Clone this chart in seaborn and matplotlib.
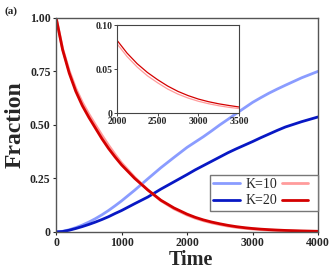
import numpy as np
import pandas as pd
import matplotlib
matplotlib.use("Agg")
import matplotlib.pyplot as plt
import seaborn as sns
from matplotlib.ticker import FuncFormatter

time = [0, 100, 200, 300, 400, 500, 600, 700, 800, 900, 1000,
        1200, 1400, 1600, 1800, 2000, 2125, 2250, 2375, 2500, 2625,
        2750, 2875, 3000, 3125, 3250, 3375, 3500, 3750, 4000]

# rising fractions
blue_k10 = [0.0, 0.003, 0.010, 0.020, 0.032, 0.046, 0.062, 0.080, 0.100, 0.122, 0.145,
            0.195, 0.248, 0.300, 0.348, 0.395, 0.420, 0.445, 0.472, 0.500, 0.526,
            0.553, 0.579, 0.605, 0.627, 0.648, 0.667, 0.685, 0.720, 0.750]
blue_k20 = [0.0, 0.002, 0.008, 0.016, 0.025, 0.035, 0.046, 0.058, 0.071, 0.086, 0.100,
            0.132, 0.163, 0.200, 0.234, 0.268, 0.290, 0.310, 0.330, 0.350, 0.370,
            0.388, 0.405, 0.422, 0.440, 0.457, 0.474, 0.490, 0.515, 0.537]
# decaying fractions
red_k10 = [1.0, 0.855, 0.752, 0.670, 0.605, 0.550, 0.500, 0.451, 0.405, 0.362, 0.322,
           0.255, 0.196, 0.146, 0.108, 0.079, 0.0643, 0.0523, 0.0424, 0.0345, 0.0273,
           0.0216, 0.0171, 0.0135, 0.0107, 0.0084, 0.0066, 0.0052, 0.0032, 0.002]
red_k20 = [1.0, 0.850, 0.742, 0.657, 0.590, 0.535, 0.485, 0.435, 0.390, 0.350, 0.313,
           0.250, 0.196, 0.148, 0.112, 0.083, 0.0682, 0.0561, 0.0462, 0.038, 0.0307,
           0.0247, 0.0199, 0.016, 0.013, 0.0106, 0.0087, 0.007, 0.0046, 0.003]

series = {"b10": blue_k10, "b20": blue_k20, "r10": red_k10, "r20": red_k20}
colors = {"b10": "#8a9cff", "b20": "#0818c4", "r10": "#ff9c9c", "r20": "#d40000"}

df = pd.concat(
    [pd.DataFrame({"time": time, "frac": v, "curve": k}) for k, v in series.items()],
    ignore_index=True,
)

sns.set_style("ticks")
plt.rcParams["font.family"] = ["Liberation Serif", "DejaVu Serif"]
plt.rcParams["font.weight"] = "bold"


def frac_fmt(v, p):
    return "0" if v == 0 else f"{v:.2f}"


fig = plt.figure(figsize=(3.32, 2.70), dpi=100)
ax = fig.add_axes([0.169, 0.141, 0.789, 0.793])

sns.lineplot(data=df, x="time", y="frac", hue="curve", palette=colors,
             linewidth=2.0, ax=ax, legend=False, sort=False)

ax.set_xlim(0, 4000)
ax.set_ylim(0, 1.0)
ax.set_xticks([0, 1000, 2000, 3000, 4000])
ax.set_yticks([0, 0.25, 0.5, 0.75, 1.0])
ax.yaxis.set_major_formatter(FuncFormatter(frac_fmt))
ax.tick_params(labelsize=8.5, length=2.5, width=0.8, pad=1.5)
for lab in ax.get_xticklabels() + ax.get_yticklabels():
    lab.set_fontweight("bold")
ax.set_xlabel("")
ax.set_ylabel("Fraction", fontsize=17, fontweight="bold", labelpad=3)
for s in ax.spines.values():
    s.set_visible(True)
    s.set_color("#555555")
    s.set_linewidth(1.0)

# x label placed at the figure bottom so it stays inside the canvas
fig.text(0.575, 0.0, "Time", fontsize=14.5, fontweight="bold",
         ha="center", va="bottom")

lines = ax.get_lines()
ax.legend([lines[0], lines[1], lines[2], lines[3]], ["K=10", "K=20", "", ""],
          ncol=2, loc="lower right", bbox_to_anchor=(1.0, 0.098),
          prop={"family": "Liberation Serif", "size": 10, "weight": "normal"},
          fancybox=False, edgecolor="#777777", framealpha=1,
          handlelength=1.9, handletextpad=0.45, columnspacing=0.3,
          labelspacing=0.25, borderpad=0.25, borderaxespad=0)

fig.text(0.015, 0.975, "(a)", fontsize=8, fontweight="bold", va="top")

# inset: late-time decay
axin = fig.add_axes([0.352, 0.581, 0.368, 0.326])
inset = df[df["curve"].isin(["r10", "r20"])]
sns.lineplot(data=inset, x="time", y="frac", hue="curve", palette=colors,
             linewidth=0.9, ax=axin, legend=False, sort=False)
axin.set_xlim(2000, 3500)
axin.set_ylim(0, 0.1)
axin.set_xticks([2000, 2500, 3000, 3500])
axin.set_yticks([0, 0.05, 0.10])
axin.yaxis.set_major_formatter(FuncFormatter(frac_fmt))
axin.tick_params(labelsize=7, length=2, width=0.6, pad=1)
for lab in axin.get_xticklabels() + axin.get_yticklabels():
    lab.set_fontweight("bold")
axin.set_xlabel("")
axin.set_ylabel("")
for s in axin.spines.values():
    s.set_visible(True)
    s.set_color("#444444")
    s.set_linewidth(0.8)

fig.savefig("out.png", dpi=100)
